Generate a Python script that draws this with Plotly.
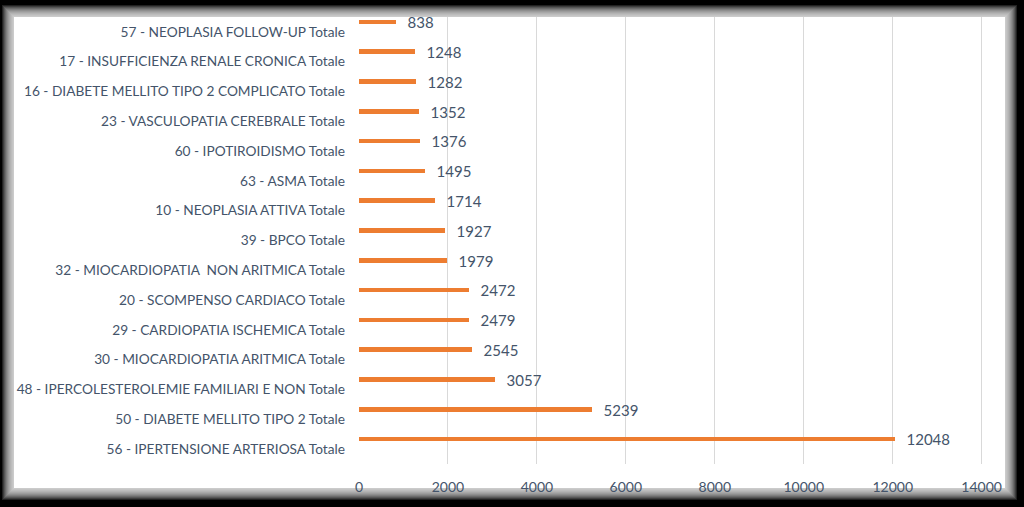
import plotly.graph_objects as go

categories = [
    "56 - IPERTENSIONE ARTERIOSA Totale",
    "50 - DIABETE MELLITO TIPO 2 Totale",
    "48 - IPERCOLESTEROLEMIE FAMILIARI E NON Totale",
    "30 - MIOCARDIOPATIA ARITMICA Totale",
    "29 - CARDIOPATIA ISCHEMICA Totale",
    "20 - SCOMPENSO CARDIACO Totale",
    "32 - MIOCARDIOPATIA  NON ARITMICA Totale",
    "39 - BPCO Totale",
    "10 - NEOPLASIA ATTIVA Totale",
    "63 - ASMA Totale",
    "60 - IPOTIROIDISMO Totale",
    "23 - VASCULOPATIA CEREBRALE Totale",
    "16 - DIABETE MELLITO TIPO 2 COMPLICATO Totale",
    "17 - INSUFFICIENZA RENALE CRONICA Totale",
    "57 - NEOPLASIA FOLLOW-UP Totale",
]
values = [12048, 5239, 3057, 2545, 2479, 2472, 1979, 1927, 1714, 1495, 1376, 1352, 1282, 1248, 838]
tick_values = [0, 2000, 4000, 6000, 8000, 10000, 12000, 14000]
tick_labels = ["0", "2000", "4000", "6000", "8000", "10000", "12000", "14000"]

W, H = 1024, 507
ML, MR, MT, MB = 359, 29, 17, 43
PW, PH = W - ML - MR, H - MT - MB

def px_x(p):
    return (p - ML) / PW

def px_y(q):
    return (H - MB - q) / PH

TEXT = "#44546A"
FONT = "Lato"

fig = go.Figure()
fig.add_trace(go.Bar(
    y=categories, x=values, orientation="h",
    marker=dict(color="#ED7D31", line=dict(width=0)),
    width=0.15, offset=0.26,
    text=["   " + str(v) for v in values],
    textposition="outside", constraintext="none", cliponaxis=False,
    outsidetextfont=dict(family=FONT, size=15, color=TEXT),
    hoverinfo="skip",
))

shapes = []
# soft glow / shadow around the white panel
x0, y0, x1, y1 = 14, 17, 1005, 488
N = 12
for k in range(N, 0, -1):
    shapes.append(dict(
        type="rect", xref="paper", yref="paper", layer="below",
        x0=px_x(x0 - k), x1=px_x(x1 + k), y0=px_y(y1 + k), y1=px_y(y0 - k),
        fillcolor="rgba(255,255,255,0.13)", line=dict(width=0),
    ))
shapes.append(dict(
    type="rect", xref="paper", yref="paper", layer="below",
    x0=px_x(x0), x1=px_x(x1), y0=px_y(y1), y1=px_y(y0),
    fillcolor="white", line=dict(width=0),
))

fig.update_layout(
    width=W, height=H,
    margin=dict(l=ML, r=MR, t=MT, b=MB),
    paper_bgcolor="black",
    plot_bgcolor="rgba(0,0,0,0)",
    showlegend=False,
    shapes=shapes,
    bargap=0,
    xaxis=dict(
        range=[0, 14300], tickvals=tick_values, ticktext=tick_labels,
        showgrid=True, gridcolor="#D9D9D9", gridwidth=1,
        zeroline=False, showline=False,
        tickfont=dict(family=FONT, size=14, color=TEXT),
        ticks="", ticklabelstandoff=13,
    ),
    yaxis=dict(
        type="category", categoryorder="array", categoryarray=categories,
        range=[-0.5, 14.5],
        showgrid=False, zeroline=False, showline=False,
        tickfont=dict(family=FONT, size=13.7, color=TEXT),
        ticks="", ticklabelstandoff=13,
    ),
)

fig.write_html("out.html")
